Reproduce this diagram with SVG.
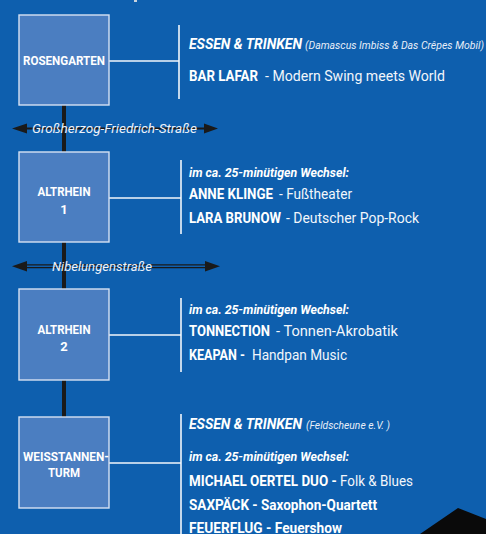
<svg xmlns="http://www.w3.org/2000/svg" width="486" height="534" viewBox="0 0 486 534">
<defs>
<style>
.bg{fill:#0e5fae}
.box{fill:#4b7ec1;stroke:#d6e2f2;stroke-width:1.4}
.nt{font-family:Roboto,"Liberation Sans",sans-serif;font-weight:bold;font-size:13px;fill:#fff;text-anchor:middle}
.wl{stroke:#f2f6fb;stroke-width:1.6;fill:none}
.trunk{stroke:#1a1a1a;stroke-width:4}
.st{font-family:Roboto,"Liberation Sans",sans-serif;font-style:italic;font-size:12.5px;fill:#eef3fa}
.b{font-family:Roboto,"Liberation Sans",sans-serif;font-weight:bold;font-size:15px;fill:#fff}
.bi{font-family:Roboto,"Liberation Sans",sans-serif;font-weight:bold;font-style:italic;font-size:15px;fill:#fff}
.si{font-family:Roboto,"Liberation Sans",sans-serif;font-weight:bold;font-style:italic;font-size:12px;fill:#fff}
.r{font-family:Roboto,"Liberation Sans",sans-serif;font-size:15px;fill:#f2f6fb}
.rt{font-weight:normal;fill:#f2f6fb}
.sm{font-family:Roboto,"Liberation Sans",sans-serif;font-style:italic;font-size:10.5px;fill:#e8eef8}
.ah{fill:#1a1a1a}
</style>
</defs>
<rect class="bg" x="0" y="0" width="486" height="534"/>
<rect x="134" y="0" width="3" height="2" fill="#c9d3de"/>
<g id="connectors">
<line class="trunk" x1="64" y1="105" x2="64" y2="152"/>
<line class="trunk" x1="64" y1="242" x2="64" y2="289"/>
<line class="trunk" x1="64" y1="380" x2="64" y2="417"/>
<line x1="24" y1="128.5" x2="208" y2="128.5" stroke="#1a1a1a" stroke-width="2.2"/>
<polygon class="ah" points="12,128.5 27,123.5 27,133.5"/>
<polygon class="ah" points="218,128.5 204,123.5 204,133.5"/>
<line x1="24" y1="264.8" x2="208" y2="264.8" stroke="#1a1a1a" stroke-width="1.2"/>
<line x1="24" y1="267.6" x2="208" y2="267.6" stroke="#1a1a1a" stroke-width="1.2"/>
<polygon class="ah" points="12,266.2 27,261 27,271.4"/>
<polygon class="ah" points="220,266.2 205,261 205,271.4"/>
<line class="wl" x1="109" y1="61" x2="179" y2="61"/>
<line class="wl" x1="179" y1="25" x2="179" y2="99"/>
<line class="wl" x1="109" y1="198" x2="181" y2="198"/>
<line class="wl" x1="181" y1="160" x2="181" y2="234"/>
<line class="wl" x1="109" y1="335" x2="181" y2="335"/>
<line class="wl" x1="181" y1="298" x2="181" y2="372"/>
<line class="wl" x1="109" y1="463" x2="181" y2="463"/>
<line class="wl" x1="181" y1="414" x2="181" y2="534"/>
</g>
<g id="street1"><text class="st" x="32" y="133" textLength="165" lengthAdjust="spacingAndGlyphs">Großherzog-Friedrich-Straße</text></g>
<g id="street2"><text class="st" x="52" y="270.5" textLength="100" lengthAdjust="spacingAndGlyphs">Nibelungenstraße</text></g>
<g id="rosengarten">
<rect class="box" x="19" y="15" width="90" height="90"/>
<text class="nt" x="64" y="65" textLength="82" lengthAdjust="spacingAndGlyphs">ROSENGARTEN</text>
</g>
<g id="altrhein1">
<rect class="box" x="19" y="152" width="90" height="90"/>
<text class="nt" x="64" y="196" textLength="53" lengthAdjust="spacingAndGlyphs">ALTRHEIN</text>
<text class="nt" x="64" y="214">1</text>
</g>
<g id="altrhein2">
<rect class="box" x="19" y="289" width="90" height="91"/>
<text class="nt" x="64" y="334" textLength="53" lengthAdjust="spacingAndGlyphs">ALTRHEIN</text>
<text class="nt" x="64" y="351">2</text>
</g>
<g id="weisstannenturm">
<rect class="box" x="19" y="417" width="90" height="91"/>
<text class="nt" x="66" y="461" textLength="86" lengthAdjust="spacingAndGlyphs">WEISSTANNEN-</text>
<text class="nt" x="64" y="477" textLength="32" lengthAdjust="spacingAndGlyphs">TURM</text>
</g>
<g id="info1">
<text class="bi" x="189" y="49" textLength="113" lengthAdjust="spacingAndGlyphs">ESSEN &amp; TRINKEN</text>
<text class="sm" x="305" y="49" textLength="179" lengthAdjust="spacingAndGlyphs">(Damascus Imbiss &amp; Das Crêpes Mobil)</text>
<text class="b" x="189" y="81" textLength="69" lengthAdjust="spacingAndGlyphs">BAR LAFAR</text>
<text class="r" x="265" y="81" textLength="180" lengthAdjust="spacingAndGlyphs">- Modern Swing meets World</text>
</g>
<g id="info2">
<text class="si" x="189" y="177" textLength="160" lengthAdjust="spacingAndGlyphs">im ca. 25-minütigen Wechsel:</text>
<text class="b" x="189" y="199" textLength="84" lengthAdjust="spacingAndGlyphs">ANNE KLINGE</text>
<text class="r" x="279" y="199" textLength="73" lengthAdjust="spacingAndGlyphs">- Fußtheater</text>
<text class="b" x="189" y="223" textLength="92" lengthAdjust="spacingAndGlyphs">LARA BRUNOW</text>
<text class="r" x="286" y="223" textLength="133" lengthAdjust="spacingAndGlyphs">- Deutscher Pop-Rock</text>
</g>
<g id="info3">
<text class="si" x="189" y="314" textLength="160" lengthAdjust="spacingAndGlyphs">im ca. 25-minütigen Wechsel:</text>
<text class="b" x="189" y="336" textLength="81" lengthAdjust="spacingAndGlyphs">TONNECTION</text>
<text class="r" x="276" y="336" textLength="122" lengthAdjust="spacingAndGlyphs">- Tonnen-Akrobatik</text>
<text class="b" x="189" y="360" textLength="56" lengthAdjust="spacingAndGlyphs">KEAPAN -</text>
<text class="r" x="252" y="360" textLength="95" lengthAdjust="spacingAndGlyphs">Handpan Music</text>
</g>
<g id="info4">
<text class="bi" x="189" y="429" textLength="113" lengthAdjust="spacingAndGlyphs">ESSEN &amp; TRINKEN</text>
<text class="sm" x="306" y="429" textLength="84" lengthAdjust="spacingAndGlyphs">(Feldscheune e.V. )</text>
<text class="si" x="189" y="461" textLength="160" lengthAdjust="spacingAndGlyphs">im ca. 25-minütigen Wechsel:</text>
<text class="b" x="189" y="486" textLength="224" lengthAdjust="spacingAndGlyphs">MICHAEL OERTEL DUO - <tspan class="rt">Folk &amp; Blues</tspan></text>
<text class="b" x="189" y="510" textLength="188" lengthAdjust="spacingAndGlyphs">SAXPÄCK - Saxophon-Quartett</text>
<text class="b" x="189" y="533" textLength="153" lengthAdjust="spacingAndGlyphs">FEUERFLUG - Feuershow</text>
</g>
<polygon points="420,534 458,508 486,519 486,534" fill="#0a0a0a"/>
</svg>
